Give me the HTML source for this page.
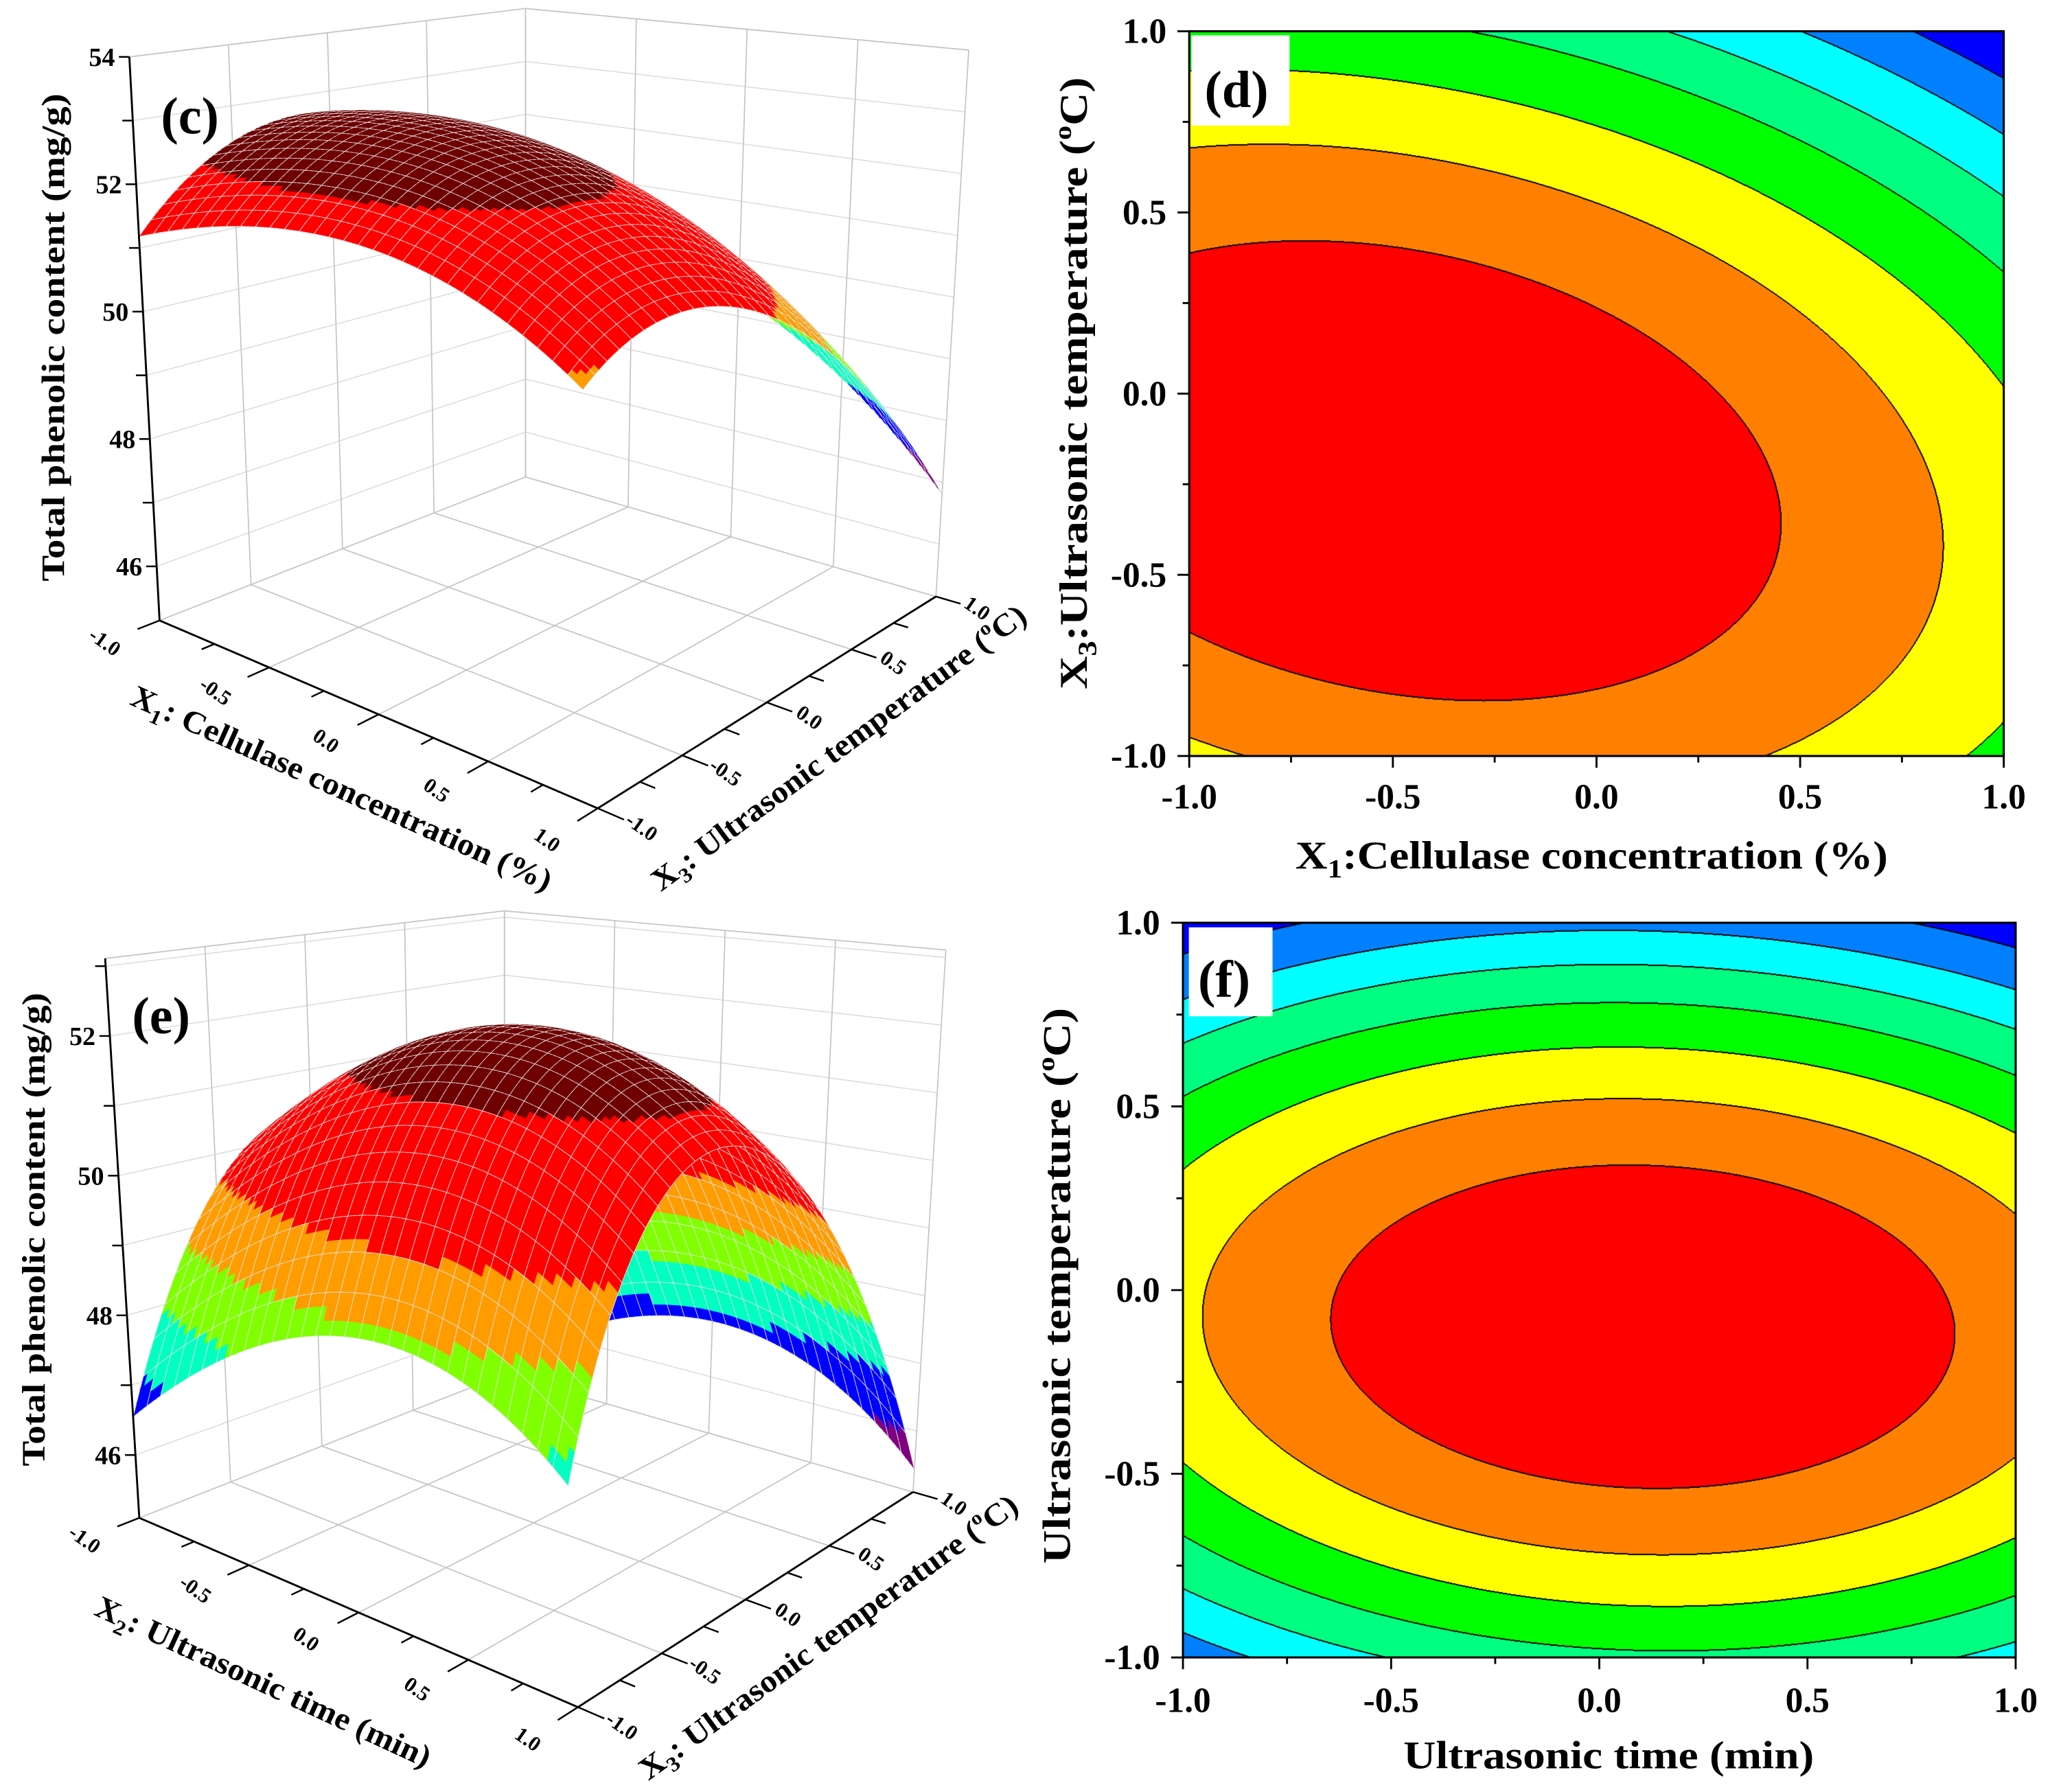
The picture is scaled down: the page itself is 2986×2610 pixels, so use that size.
<!DOCTYPE html>
<html><head><meta charset="utf-8"><title>Response surface and contour plots</title>
<style>
body{margin:0;background:#fff}
#root{position:relative;width:2986px;height:2610px;overflow:hidden;background:#fff}
canvas,svg{position:absolute}
text{font-family:"Liberation Serif",serif;font-weight:bold;fill:#000}
</style></head>
<body>
<div id="root">
<canvas id="cd" width="1187" height="1055" style="left:1732px;top:46px"></canvas>
<canvas id="cf" width="1213" height="1070" style="left:1723px;top:1344px"></canvas>
<svg id="s" width="2986" height="2610" viewBox="0 0 1567.45 1370.08" style="left:0;top:0" xmlns="http://www.w3.org/2000/svg">
 <g id="g3c"></g>
 <g id="g3e"></g>
 <g id="gd"></g>
 <g id="gf"></g>

 <text x="123" y="102" font-size="40">(c)</text>
 <text x="101" y="790" font-size="40">(e)</text>
 <rect x="911" y="27" width="75" height="69" fill="#fff"/>
 <text x="921" y="82" font-size="40">(d)</text>
 <rect x="909" y="709" width="64" height="68" fill="#fff"/>
 <text x="916" y="762" font-size="40">(f)</text>

 <text transform="translate(49,258) rotate(-90)" text-anchor="middle" font-size="25" textLength="373" lengthAdjust="spacingAndGlyphs">Total phenolic content (mg/g)</text>
 <text transform="translate(34,940) rotate(-90)" text-anchor="middle" font-size="25" textLength="362" lengthAdjust="spacingAndGlyphs">Total phenolic content (mg/g)</text>

 <text transform="translate(258,610) rotate(24.2)" text-anchor="middle" font-size="24" textLength="350" lengthAdjust="spacingAndGlyphs">X<tspan font-size="16" dy="6">1</tspan><tspan dy="-6">: Cellulase concentration (%)</tspan></text>
 <text transform="translate(646,578) rotate(-36.5)" text-anchor="middle" font-size="24" textLength="350" lengthAdjust="spacingAndGlyphs">X<tspan font-size="16" dy="6">3</tspan><tspan dy="-6">: Ultrasonic temperature (</tspan><tspan font-size="15" dy="-10">o</tspan><tspan dy="10">C)</tspan></text>
 <text transform="translate(198,1293) rotate(24.8)" text-anchor="middle" font-size="24" textLength="280" lengthAdjust="spacingAndGlyphs">X<tspan font-size="16" dy="6">2</tspan><tspan dy="-6">: Ultrasonic time (min)</tspan></text>
 <text transform="translate(638,1258) rotate(-36.1)" text-anchor="middle" font-size="24" textLength="352" lengthAdjust="spacingAndGlyphs">X<tspan font-size="16" dy="6">3</tspan><tspan dy="-6">: Ultrasonic temperature (</tspan><tspan font-size="15" dy="-10">o</tspan><tspan dy="10">C)</tspan></text>

 <text x="1217" y="664" text-anchor="middle" font-size="30" textLength="453" lengthAdjust="spacingAndGlyphs">X<tspan font-size="20" dy="7">1</tspan><tspan dy="-7">:Cellulase concentration (%)</tspan></text>
 <text transform="translate(831,293) rotate(-90)" text-anchor="middle" font-size="30" textLength="468" lengthAdjust="spacingAndGlyphs">X<tspan font-size="20" dy="7">3</tspan><tspan dy="-7">:Ultrasonic temperature (</tspan><tspan font-size="19" dy="-12">o</tspan><tspan dy="12">C)</tspan></text>
 <text x="1230" y="1352" text-anchor="middle" font-size="30" textLength="314" lengthAdjust="spacingAndGlyphs">Ultrasonic time (min)</text>
 <text transform="translate(818,983) rotate(-90)" text-anchor="middle" font-size="30" textLength="425" lengthAdjust="spacingAndGlyphs">Ultrasonic temperature (<tspan font-size="19" dy="-12">o</tspan><tspan dy="12">C)</tspan></text>
</svg>
</div>
<script>
// ---- data: quadratic response models (b0, bx, by, bxx, byy, bxy) ----
const coefC = [52.52, -1.024, -1.161, -0.9, -2.007, -0.619];
const levelsC = [52.13, 51.35, 50.56, 49.77, 49.03, 48.29, 47.52];
const coefE = [52.11, 0.293, -0.850, -1.51, -4.379, -0.2325];
const levelsE = [51.32, 50.48, 49.63, 48.76, 47.91, 47.07, 46.07];
const contourColors = ['#ff0000','#ff8000','#ffff00','#00ff00','#00ff80','#00ffff','#0080ff','#0000ff'];
const surfaceColors = ['#6e0000','#ff0000','#ff0000','#ff9c00','#80ff00','#00ffc0','#0000ff','#800080'];
const axisTicks = [-1, -0.5, 0, 0.5, 1];
const axisTickLabels = ['-1.0','-0.5','0.0','0.5','1.0'];
const zTicksC = [46, 48, 50, 52, 54];
const zTicksE = [46, 48, 50, 52];

const NS = 'http://www.w3.org/2000/svg';
function model(c, x, y){ return c[0]+c[1]*x+c[2]*y+c[3]*x*x+c[4]*y*y+c[5]*x*y; }
function band(levels, z){ let b=0; for(const L of levels){ if(z<L) b++; } return b; }
function el(tag, parent){ const e=document.createElementNS(NS, tag); parent.appendChild(e); return e; }
function line(p, a, b, stroke, w, name){
  const l=el('line', p);
  l.setAttribute('x1',a[0]); l.setAttribute('y1',a[1]); l.setAttribute('x2',b[0]); l.setAttribute('y2',b[1]);
  l.setAttribute('stroke',stroke); l.setAttribute('stroke-width',w);
  
  
  return l;
}

// ---- contour plots (canvas) ----
function drawContour(id, coef, levels){
  const cv=document.getElementById(id), ctx=cv.getContext('2d');
  const W=cv.width, H=cv.height, img=ctx.createImageData(W,H);
  const bands=new Int8Array(W*H);
  for(let j=0;j<H;j++){ const y=1-2*j/(H-1);
    for(let i=0;i<W;i++){ const x=-1+2*i/(W-1); bands[j*W+i]=band(levels, model(coef,x,y)); } }
  const edge=new Uint8Array(W*H);
  for(let j=0;j<H;j++) for(let i=0;i<W;i++){
    const k=j*W+i, b=bands[k];
    if(i<W-1 && bands[k+1]!==b){ edge[k]=1; edge[k+1]=1; }
    if(j<H-1 && bands[k+W]!==b){ edge[k]=1; edge[k+W]=1; }
  }
  const rgb=contourColors.map(c=>[parseInt(c.substr(1,2),16),parseInt(c.substr(3,2),16),parseInt(c.substr(5,2),16)]);
  for(let k=0;k<W*H;k++){
    const c= edge[k]?[0,0,0]:rgb[bands[k]];
    img.data[4*k]=c[0]; img.data[4*k+1]=c[1]; img.data[4*k+2]=c[2]; img.data[4*k+3]=255;
  }
  ctx.putImageData(img,0,0);
}
drawContour('cd', coefC, levelsC);
drawContour('cf', coefE, levelsE);

function contourAxes(gid, fr, ylabX, xlabY, tag){
  const g=document.getElementById(gid);
  const r=el('rect', g);
  r.setAttribute('x',fr.x0); r.setAttribute('y',fr.y0); r.setAttribute('width',fr.x1-fr.x0); r.setAttribute('height',fr.y1-fr.y0);
  r.setAttribute('fill','none'); r.setAttribute('stroke','#000'); r.setAttribute('stroke-width','1.6');
  
  
  const sx=v=>fr.x0+(v+1)/2*(fr.x1-fr.x0), sy=v=>fr.y1-(v+1)/2*(fr.y1-fr.y0);
  for(let t=-1;t<=1.001;t+=0.25){
    const major=Math.abs(t*2-Math.round(t*2))<1e-6, len=major?9:5;
    line(g,[sx(t),fr.y1],[sx(t),fr.y1+len],'#000',1.5,'x-tick-'+tag);
    line(g,[fr.x0,sy(t)],[fr.x0-len,sy(t)],'#000',1.5,'y-tick-'+tag);
  }
  axisTicks.forEach((t,i)=>{
    const tx=el('text', g); tx.textContent=axisTickLabels[i];
    tx.setAttribute('x',sx(t)); tx.setAttribute('y',xlabY); tx.setAttribute('text-anchor','middle'); tx.setAttribute('font-size','27');
    
    
    const ty=el('text', g); ty.textContent=axisTickLabels[i];
    ty.setAttribute('x',ylabX); ty.setAttribute('y',sy(t)+9); ty.setAttribute('text-anchor','end'); ty.setAttribute('font-size','27');
    
    
  });
}
contourAxes('gd', {x0:909.3,y0:23.9,x1:1532.1,y1:578.0}, 892, 618, 'd');
contourAxes('gf', {x0:904.5,y0:705.5,x1:1541.2,y1:1267.2}, 887, 1309, 'f');

// ---- 3D surfaces ----
const boxC = {gL:[122.0,474.4], gF:[457.0,618.0], gR:[715.6,456.1], gB:[401.8,364.7],
              tL:[98.9,43.5], tF:[437.8,75.3], tR:[740.7,38.3], tB:[401.8,6.5], zmin:45.15, zmax:54};
const boxE = {gL:[106.5,1160.5], gF:[441.9,1305.2], gR:[698.1,1140.7], gB:[385.7,1050.8],
              tL:[80.4,732.8], tF:[417.9,762.7], tR:[723.2,726.3], tB:[385.7,696.4], zmin:45.10, zmax:53.11};
function bil(A,F,R,B,s,t,k){ return A[k]*(1-s)*(1-t)+F[k]*s*(1-t)+R[k]*s*t+B[k]*(1-s)*t; }
function proj(b,u,v,z){
  const s=(u+1)/2, t=(v+1)/2, f=(z-b.zmin)/(b.zmax-b.zmin);
  const gx=bil(b.gL,b.gF,b.gR,b.gB,s,t,0), gy=bil(b.gL,b.gF,b.gR,b.gB,s,t,1);
  const tx=bil(b.tL,b.tF,b.tR,b.tB,s,t,0), ty=bil(b.tL,b.tF,b.tR,b.tB,s,t,1);
  return [gx+(tx-gx)*f, gy+(ty-gy)*f];
}
function draw3D(gid, b, coef, levels, zTicks, tag, u2){
  const g=document.getElementById(gid);
  const grey='#c4c4c4', lg='#dcdcdc';
  for(let z=Math.ceil(b.zmin); z<=b.zmax+1e-6; z++){
    line(g,proj(b,-1,-1,z),proj(b,-1,1,z),lg,0.8,'wall-gridline-'+tag);
    line(g,proj(b,-1,1,z),proj(b,1,1,z),lg,0.8,'wall-gridline-'+tag);
  }
  axisTicks.forEach(t=>{
    line(g,proj(b,-1,t,b.zmin),proj(b,-1,t,b.zmax),grey,0.9,'wall-gridline-'+tag);
    line(g,proj(b,t,1,b.zmin),proj(b,t,1,b.zmax),grey,0.9,'wall-gridline-'+tag);
    line(g,proj(b,t,-1,b.zmin),proj(b,t,1,b.zmin),grey,0.9,'floor-gridline-'+tag);
    line(g,proj(b,-1,t,b.zmin),proj(b,1,t,b.zmin),grey,0.9,'floor-gridline-'+tag);
  });
  line(g,proj(b,-1,-1,b.zmax),proj(b,-1,1,b.zmax),grey,0.9,'box-edge-'+tag);
  line(g,proj(b,-1,1,b.zmax),proj(b,1,1,b.zmax),grey,0.9,'box-edge-'+tag);
  // surface: fine fill grid, mesh lines every 3rd cell
  const N=90, M=3, quads=[];
  for(let i=0;i<N;i++) for(let j=0;j<N;j++){
    const u0=-1+2*i/N, u1=-1+2*(i+1)/N, v0=-1+2*j/N, v1=-1+2*(j+1)/N;
    const pts=[[u0,v0],[u1,v0],[u1,v1],[u0,v1]];
    const zs=pts.map(p=>model(coef,p[0],p[1]));
    const zc=model(coef,(u0+u1)/2,(v0+v1)/2);
    quads.push({i,j,pts,zs,zc,d:(u0+u1)/2-(v0+v1)/2});
  }
  quads.sort((a,c)=>a.d-c.d);
  const sg=el('g', g);
  
  
  const mesh='#e4e4e4';
  quads.forEach(q=>{
    const P=q.pts.map((pt,k)=>proj(b,pt[0],pt[1],q.zs[k]));
    const col=surfaceColors[band(levels,q.zc)];
    const p=el('polygon', sg);
    p.setAttribute('points', P.map(v=>v[0].toFixed(2)+','+v[1].toFixed(2)).join(' '));
    p.setAttribute('fill', col);
    p.setAttribute('stroke', col); p.setAttribute('stroke-width','0.4');
    
    
    if(q.i%M===0) line(sg,P[0],P[3],mesh,0.5,'surface-mesh-line');
    if((q.j+1)%M===0) line(sg,P[3],P[2],mesh,0.5,'surface-mesh-line');
    if(q.i===N-1) line(sg,P[1],P[2],mesh,0.5,'surface-mesh-line');
    if(q.j===0) line(sg,P[0],P[1],mesh,0.5,'surface-mesh-line');
  });
  line(g,proj(b,-1,-1,b.zmin),proj(b,-1,-1,b.zmax),'#000',1.5,'z-axis-line-'+tag);
  line(g,proj(b,-1,-1,b.zmin),proj(b,1,-1,b.zmin),'#000',1.5,'x-axis-line-'+tag);
  line(g,proj(b,1,-1,b.zmin),proj(b,1,1,b.zmin),'#000',1.5,'y-axis-line-'+tag);
  for(let t=-1;t<=1.001;t+=0.25){
    const major=Math.abs(t*2-Math.round(t*2))<1e-6, e=major?0.12:0.07;
    line(g,proj(b,t,-1,b.zmin),proj(b,t,-1-e,b.zmin),'#000',1.3,'x-tick-'+tag);
    line(g,proj(b,1,t,b.zmin),proj(b,1+e,t,b.zmin),'#000',1.3,'y-tick-'+tag);
  }
  for(let z=Math.ceil(b.zmin); z<=b.zmax+1e-6; z++){
    const p=proj(b,-1,-1,z);
    line(g,p,[p[0]-8,p[1]],'#000',1.3,'z-tick-'+tag);
  }
  zTicks.forEach(z=>{
    const p=proj(b,-1,-1,z), tx=el('text', g);
    tx.textContent=String(z);
    tx.setAttribute('x',p[0]-11); tx.setAttribute('y',p[1]+7); tx.setAttribute('text-anchor','end'); tx.setAttribute('font-size','20');
    
    
  });
  axisTicks.forEach((t,i)=>{
    const a=proj(b,t,-1.3,b.zmin), tx=el('text', g);
    tx.textContent=axisTickLabels[i];
    tx.setAttribute('transform','translate('+a[0].toFixed(1)+','+a[1].toFixed(1)+') rotate(35)');
    tx.setAttribute('text-anchor','middle'); tx.setAttribute('font-size','16'); tx.setAttribute('dy','5');
    
    
    const c=proj(b,1.2,t,b.zmin), ty=el('text', g);
    ty.textContent=axisTickLabels[i];
    ty.setAttribute('transform','translate('+c[0].toFixed(1)+','+c[1].toFixed(1)+') rotate(35)');
    ty.setAttribute('text-anchor','middle'); ty.setAttribute('font-size','16'); ty.setAttribute('dy','5');
    
    
  });
}
draw3D('g3c', boxC, coefC, levelsC, zTicksC, 'c', 'x1');
draw3D('g3e', boxE, coefE, levelsE, zTicksE, 'e', 'x2');
</script>
</body></html>
